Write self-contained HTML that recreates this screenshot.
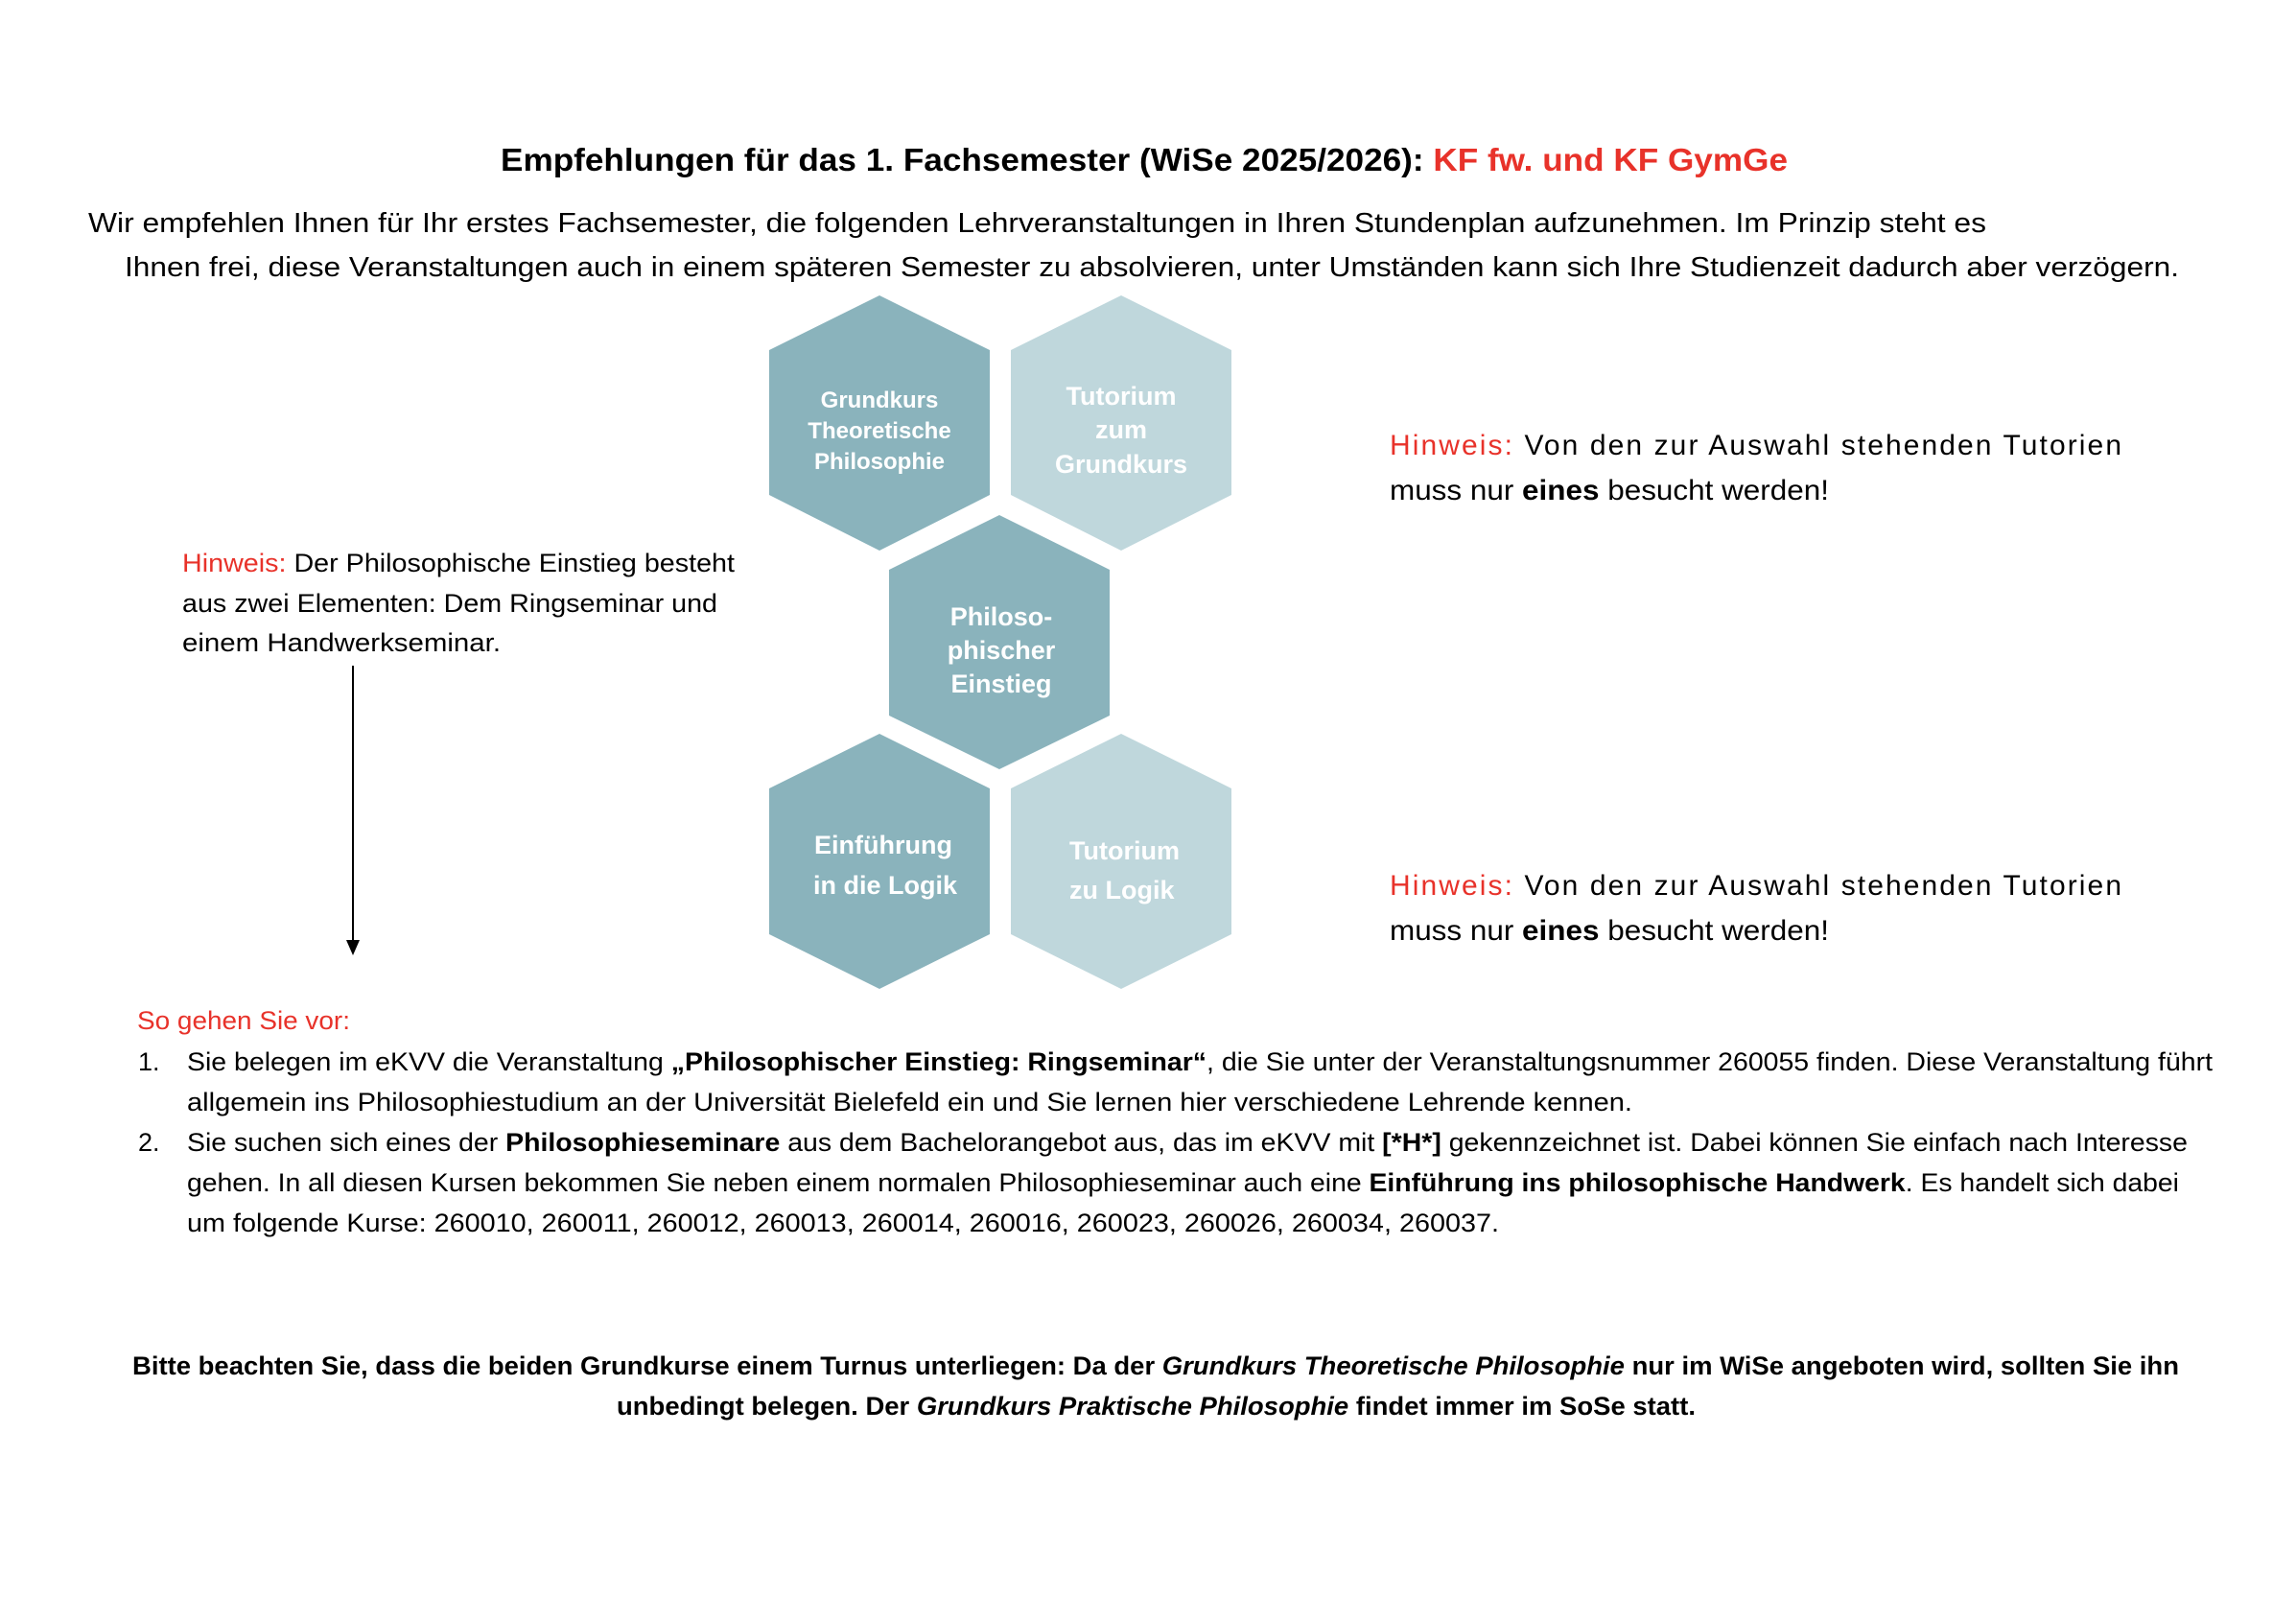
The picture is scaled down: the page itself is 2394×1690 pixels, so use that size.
<!DOCTYPE html>
<html><head><meta charset="utf-8"><style>
html,body{margin:0;padding:0;background:#fff;}
svg{display:block;}
text{font-family:"Liberation Sans",sans-serif;}
.r{fill:#e8322a;}
.b{font-weight:bold;}
.i{font-style:italic;}
.w{fill:#fff;font-weight:bold;text-anchor:middle;}
</style></head><body>
<svg width="2394" height="1690" viewBox="0 0 2394 1690" xmlns="http://www.w3.org/2000/svg">
<rect width="2394" height="1690" fill="#fff"/>
<text x="522" y="178" font-size="33" class="b" textLength="1342" lengthAdjust="spacingAndGlyphs">Empfehlungen für das 1. Fachsemester (WiSe 2025/2026): <tspan class="r">KF fw. und KF GymGe</tspan></text>
<text x="92" y="242" font-size="29" textLength="1979" lengthAdjust="spacingAndGlyphs">Wir empfehlen Ihnen für Ihr erstes Fachsemester, die folgenden Lehrveranstaltungen in Ihren Stundenplan aufzunehmen. Im Prinzip steht es</text>
<text x="130" y="288" font-size="29" textLength="2142" lengthAdjust="spacingAndGlyphs">Ihnen frei, diese Veranstaltungen auch in einem späteren Semester zu absolvieren, unter Umständen kann sich Ihre Studienzeit dadurch aber verzögern.</text>

<!-- hexagons -->
<polygon points="917,308 1032,365 1032,516 917,574 802,516 802,365" fill="#8ab3bc"/>
<polygon points="1169,308 1284,365 1284,516 1169,574 1054,516 1054,365" fill="#bfd7dc"/>
<polygon points="1042,537 1157,594 1157,746 1042,802 927,746 927,594" fill="#8ab3bc"/>
<polygon points="917,765 1032,822 1032,974 917,1031 802,974 802,822" fill="#8ab3bc"/>
<polygon points="1169,765 1284,822 1284,974 1169,1031 1054,974 1054,822" fill="#bfd7dc"/>

<g font-size="24" class="w">
<text x="917" y="425">Grundkurs</text>
<text x="917" y="457">Theoretische</text>
<text x="917" y="489">Philosophie</text>
</g>
<g font-size="27" class="w">
<text x="1169" y="422">Tutorium</text>
<text x="1169" y="457">zum</text>
<text x="1169" y="493">Grundkurs</text>
<text x="1044" y="652">Philoso-</text>
<text x="1044" y="687">phischer</text>
<text x="1044" y="722">Einstieg</text>
<text x="921" y="890">Einführung</text>
<text x="923" y="932">in die Logik</text>
</g>
<g font-size="27" fill="#fff" font-weight="bold">
<text x="1115" y="896">Tutorium</text>
<text x="1115" y="937">zu Logik</text>
</g>

<!-- right notes -->
<g font-size="30">
<text x="1449" y="474" textLength="763" lengthAdjust="spacing"><tspan class="r">Hinweis:</tspan> Von den zur Auswahl stehenden Tutorien</text>
<text x="1449" y="521" textLength="458" lengthAdjust="spacingAndGlyphs">muss nur <tspan class="b">eines</tspan> besucht werden!</text>
<text x="1449" y="933" textLength="763" lengthAdjust="spacing"><tspan class="r">Hinweis:</tspan> Von den zur Auswahl stehenden Tutorien</text>
<text x="1449" y="980" textLength="458" lengthAdjust="spacingAndGlyphs">muss nur <tspan class="b">eines</tspan> besucht werden!</text>
</g>

<!-- left note -->
<g font-size="27">
<text x="190" y="596" textLength="576" lengthAdjust="spacingAndGlyphs"><tspan class="r">Hinweis:</tspan> Der Philosophische Einstieg besteht</text>
<text x="190" y="638" textLength="558" lengthAdjust="spacingAndGlyphs">aus zwei Elementen: Dem Ringseminar und</text>
<text x="190" y="679" textLength="332" lengthAdjust="spacingAndGlyphs">einem Handwerkseminar.</text>
</g>
<line x1="368" y1="694" x2="368" y2="982" stroke="#000" stroke-width="2"/>
<polygon points="361,980 375,980 368,996" fill="#000"/>

<!-- steps -->
<g font-size="27">
<text x="143" y="1073" class="r" textLength="222" lengthAdjust="spacingAndGlyphs">So gehen Sie vor:</text>
<text x="144" y="1116">1.</text>
<text x="195" y="1116" textLength="2112" lengthAdjust="spacingAndGlyphs">Sie belegen im eKVV die Veranstaltung <tspan class="b">„Philosophischer Einstieg: Ringseminar“</tspan>, die Sie unter der Veranstaltungsnummer 260055 finden. Diese Veranstaltung führt</text>
<text x="195" y="1158" textLength="1507" lengthAdjust="spacingAndGlyphs">allgemein ins Philosophiestudium an der Universität Bielefeld ein und Sie lernen hier verschiedene Lehrende kennen.</text>
<text x="144" y="1200">2.</text>
<text x="195" y="1200" textLength="2086" lengthAdjust="spacingAndGlyphs">Sie suchen sich eines der <tspan class="b">Philosophieseminare</tspan> aus dem Bachelorangebot aus, das im eKVV mit <tspan class="b">[*H*]</tspan> gekennzeichnet ist. Dabei können Sie einfach nach Interesse</text>
<text x="195" y="1242" textLength="2077" lengthAdjust="spacingAndGlyphs">gehen. In all diesen Kursen bekommen Sie neben einem normalen Philosophieseminar auch eine <tspan class="b">Einführung ins philosophische Handwerk</tspan>. Es handelt sich dabei</text>
<text x="195" y="1284" textLength="1368" lengthAdjust="spacingAndGlyphs">um folgende Kurse: 260010, 260011, 260012, 260013, 260014, 260016, 260023, 260026, 260034, 260037.</text>
</g>

<g font-size="27" class="b">
<text x="138" y="1433" textLength="2134" lengthAdjust="spacingAndGlyphs">Bitte beachten Sie, dass die beiden Grundkurse einem Turnus unterliegen: Da der <tspan class="i">Grundkurs Theoretische Philosophie</tspan> nur im WiSe angeboten wird, sollten Sie ihn</text>
<text x="643" y="1475" textLength="1125" lengthAdjust="spacingAndGlyphs">unbedingt belegen. Der <tspan class="i">Grundkurs Praktische Philosophie</tspan> findet immer im SoSe statt.</text>
</g>
</svg>
</body></html>
